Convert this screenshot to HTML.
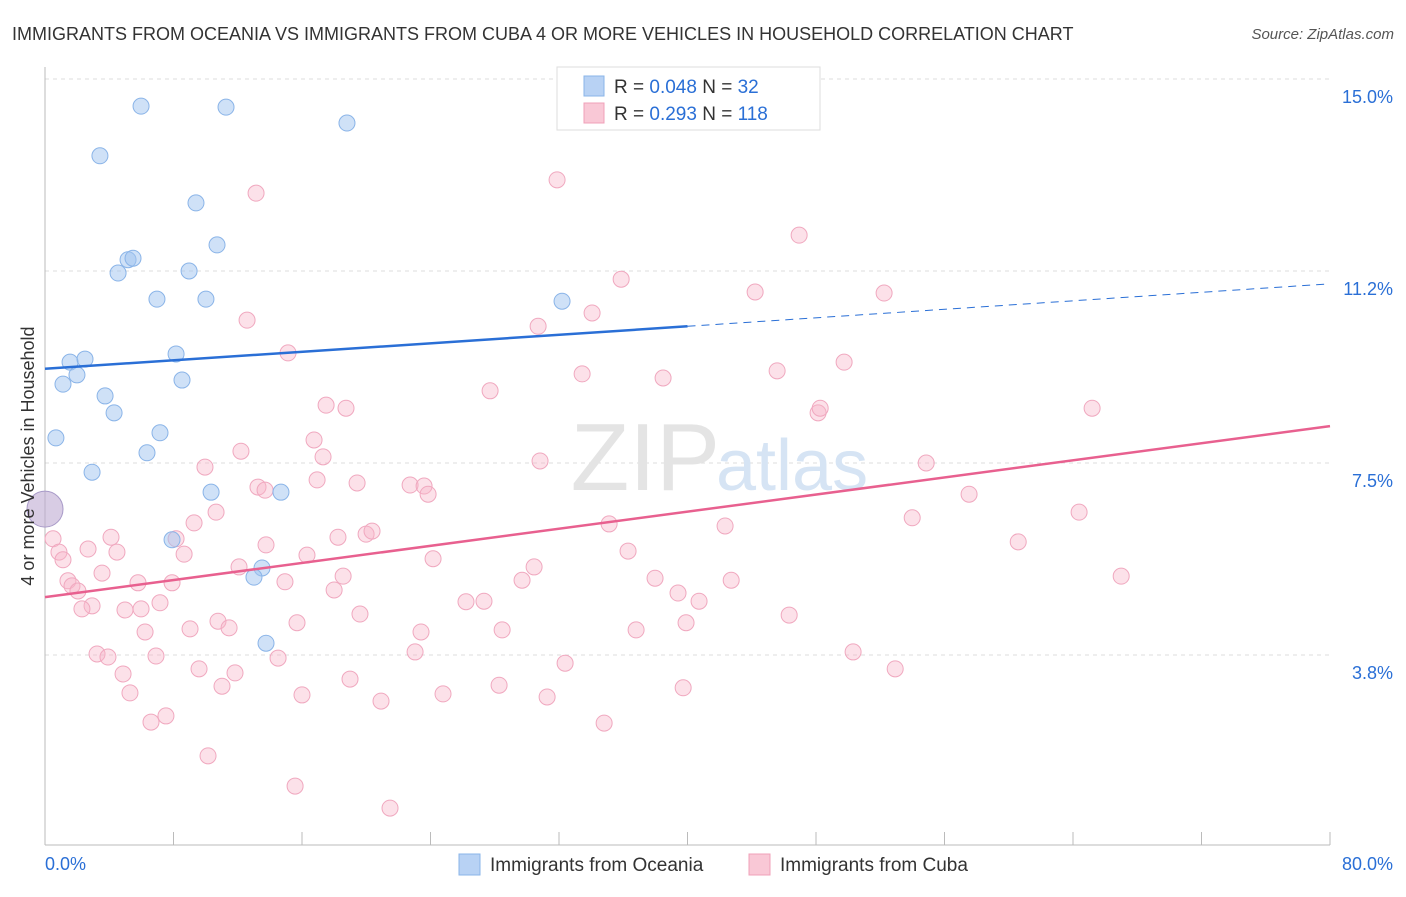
<!DOCTYPE html>
<html><head><meta charset="utf-8"><style>
body{margin:0;background:#fff;font-family:"Liberation Sans",sans-serif;}
svg text{font-family:"Liberation Sans",sans-serif;}
</style></head><body>
<svg id="chart" width="1406" height="892" xmlns="http://www.w3.org/2000/svg">
<text x="12" y="40" font-size="18" fill="#333">IMMIGRANTS FROM OCEANIA VS IMMIGRANTS FROM CUBA 4 OR MORE VEHICLES IN HOUSEHOLD CORRELATION CHART</text>
<text x="1394" y="39" font-size="15" fill="#555" font-style="italic" text-anchor="end">Source: ZipAtlas.com</text>
<g id="grid"></g>
<text x="720" y="490" font-size="96" fill="#e4e4e4" text-anchor="end" font-family="Liberation Serif">ZIP</text>
<text x="716" y="490" font-size="72" fill="#d6e4f4">atlas</text>
<g id="axes"></g>
<g id="marks"></g>
<text transform="translate(34,456) rotate(-90)" font-size="18" fill="#333" text-anchor="middle">4 or more Vehicles in Household</text>
<g>
<rect x="557" y="67" width="263" height="63" fill="#fff" stroke="#ddd"/>
<rect x="584" y="76" width="20" height="20" fill="#b8d2f4" stroke="#8ab4e8"/>
<rect x="584" y="103" width="20" height="20" fill="#f9c8d6" stroke="#f0a0b8"/>
<text x="614" y="93" font-size="19" fill="#333">R = <tspan fill="#2a6fd6">0.048</tspan>   N =  <tspan fill="#2a6fd6">32</tspan></text>
<text x="614" y="120" font-size="19" fill="#333">R =  <tspan fill="#2a6fd6">0.293</tspan>   N = <tspan fill="#2a6fd6">118</tspan></text>
</g>
<g>
<rect x="459" y="854" width="21" height="21" fill="#b8d2f4" stroke="#8ab4e8"/>
<text x="490" y="871" font-size="19" fill="#333">Immigrants from Oceania</text>
<rect x="749" y="854" width="21" height="21" fill="#f9c8d6" stroke="#f0a0b8"/>
<text x="780" y="871" font-size="19" fill="#333">Immigrants from Cuba</text>
</g>
</svg>
<script>
const yTicks=[15,11.25,7.5,3.75];
const yTickLabels=["15.0%","11.2%","7.5%","3.8%"];
const xTickLabels=["0.0%","80.0%"];
const oceaniaX=[5.98,11.27,18.80,3.42,9.40,10.71,5.17,5.48,4.55,8.97,6.97,10.02,32.19,1.56,2.49,8.16,1.99,1.12,8.53,3.74,4.30,0.68,7.16,6.35,2.93,10.34,14.69,7.91,13.51,13.01,13.76];
const oceaniaY=[14.47,14.45,14.14,13.50,12.58,11.76,11.47,11.50,11.21,11.25,10.70,10.70,10.66,9.47,9.53,9.63,9.22,9.04,9.12,8.81,8.48,7.99,8.09,7.70,7.32,6.93,6.93,6.00,5.45,5.27,3.98];
const cubaX=[31.88,13.14,46.95,35.87,44.21,52.24,34.06,12.58,30.70,15.13,49.75,33.44,38.48,45.58,27.71,17.50,18.74,48.13,48.26,65.19,16.75,12.20,17.31,9.96,30.82,54.86,16.94,19.43,22.73,23.60,13.26,13.70,23.85,57.53,10.65,64.38,53.99,9.28,35.12,42.34,4.11,8.16,18.24,19.99,20.36,13.76,60.59,0.50,0.87,2.68,4.48,1.12,8.66,16.31,24.16,36.30,3.55,12.08,30.45,1.43,1.68,5.79,7.91,14.94,18.56,29.70,37.98,42.72,67.00,2.05,18.00,39.41,2.93,2.30,4.98,5.98,7.16,26.21,27.33,40.72,46.33,19.61,15.69,10.77,11.46,6.23,9.03,23.41,28.46,36.80,39.91,3.24,3.92,6.91,14.51,23.04,50.31,9.59,11.83,32.38,52.93,4.86,18.99,28.27,11.02,39.73,5.29,16.00,24.78,31.26,20.92,6.60,7.53,34.81,10.15,15.57,21.48];
const cubaY=[13.03,12.77,11.95,11.09,10.84,10.82,10.43,10.29,10.17,9.65,9.47,9.24,9.16,9.30,8.91,8.63,8.57,8.48,8.57,8.57,7.95,7.73,7.62,7.42,7.54,7.50,7.17,7.11,7.07,7.05,7.03,6.97,6.89,6.89,6.54,6.54,6.43,6.33,6.31,6.27,6.05,6.02,6.05,6.11,6.17,5.90,5.96,6.02,5.76,5.82,5.76,5.61,5.72,5.70,5.63,5.78,5.35,5.47,5.47,5.20,5.10,5.16,5.16,5.18,5.29,5.21,5.25,5.21,5.29,5.00,5.02,4.96,4.71,4.65,4.63,4.65,4.77,4.79,4.80,4.80,4.53,4.55,4.38,4.41,4.28,4.20,4.26,4.20,4.24,4.24,4.38,3.77,3.71,3.73,3.69,3.81,3.81,3.48,3.40,3.59,3.48,3.38,3.28,3.16,3.14,3.11,3.01,2.97,2.99,2.93,2.85,2.44,2.56,2.42,1.78,1.19,0.76];
const bigPoint=[0,6.60];
const oceaniaTrend=[9.34,11.0];
const cubaTrend=[4.88,8.22];

const NS="http://www.w3.org/2000/svg";
const xs=v=>45+v*(1285/80);
const ys=v=>79+(15-v)*51.2;
function mk(t,a,p){const e=document.createElementNS(NS,t);for(const k in a)e.setAttribute(k,a[k]);p.appendChild(e);return e;}
const grid=document.getElementById('grid'),axes=document.getElementById('axes'),marks=document.getElementById('marks');
yTicks.forEach((t,i)=>{
 const l=mk('line',{x1:45,x2:1330,y1:ys(t),y2:ys(t),stroke:'#ddd','stroke-dasharray':'4,4'},grid);
 
 
 const tx=mk('text',{x:1393,y:ys(t)+24,'font-size':18,fill:'#2a6fd6','text-anchor':'end'},axes);
 tx.textContent=yTickLabels[i];
 
 
});
const ax=mk('line',{x1:45,x2:1330,y1:845,y2:845,stroke:'#bbb'},axes);


const ay=mk('line',{x1:45,x2:45,y1:67,y2:845,stroke:'#bbb'},axes);


for(let v=0;v<=80;v+=8){
 const t=mk('line',{x1:xs(v),x2:xs(v),y1:832,y2:845,stroke:'#bbb'},axes);
 
 
}
[[0,'start',45],[80,'end',1393]].forEach((d,i)=>{
 const t=mk('text',{x:d[2],y:870,'font-size':18,fill:'#2a6fd6','text-anchor':d[1]},axes);
 t.textContent=xTickLabels[i];
 
 
});
cubaX.forEach((x,i)=>{
 const c=mk('circle',{cx:xs(x),cy:ys(cubaY[i]),r:8,fill:'rgba(248,180,200,0.4)',stroke:'#f0a8bf','stroke-width':1},marks);
 
 
});
oceaniaX.forEach((x,i)=>{
 const c=mk('circle',{cx:xs(x),cy:ys(oceaniaY[i]),r:8,fill:'rgba(160,196,240,0.5)',stroke:'#8ab4e8','stroke-width':1},marks);
 
 
});
const bp=mk('circle',{cx:xs(bigPoint[0]),cy:ys(bigPoint[1]),r:18,fill:'rgba(190,170,210,0.6)',stroke:'#a89ac8'},marks);


const midY=oceaniaTrend[0]+(oceaniaTrend[1]-oceaniaTrend[0])*0.5;
const l1=mk('line',{x1:xs(0),y1:ys(oceaniaTrend[0]),x2:xs(40),y2:ys(midY),stroke:'#2a6fd6','stroke-width':2.5},marks);


const l2=mk('line',{x1:xs(40),y1:ys(midY),x2:xs(80),y2:ys(oceaniaTrend[1]),stroke:'#2a6fd6','stroke-width':1,'stroke-dasharray':'8,6'},marks);


const l3=mk('line',{x1:xs(0),y1:ys(cubaTrend[0]),x2:xs(80),y2:ys(cubaTrend[1]),stroke:'#e8608f','stroke-width':2.5},marks);


</script>
</body></html>
